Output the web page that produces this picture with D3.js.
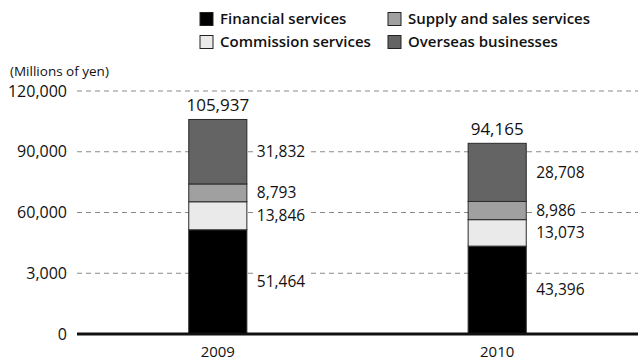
<!DOCTYPE html>
<html>
<head>
<meta charset="utf-8">
<script src="https://cdn.jsdelivr.net/npm/d3@7"></script>
<style>
  body { margin: 0; background: #fff; }
  text { font-family: "Open Sans", "DejaVu Sans", sans-serif; fill: #111; }
</style>
</head>
<body>
<div class="canvas"></div>
<script>
// data
const years = ['2009', '2010']
const series = ['Financial services', 'Commission services', 'Supply and sales services', 'Overseas businesses']
const financial = [51464, 43396]
const commission = [13846, 13073]
const supply = [8793, 8986]
const overseas = [31832, 28708]
const totals = [105937, 94165]
const tickValues = [0, 30000, 60000, 90000, 120000]
const tickLabels = ['0', '3,000', '60,000', '90,000', '120,000']
const colors = ['#000000', '#e9eae9', '#a0a0a0', '#646464']

const W = 638, H = 360
const svg = d3.select('.canvas').append('svg')
    .attr('width', W)
    .attr('height', H)

const y = d3.scaleLinear()
    .domain([0, 120000])
    .range([334, 91])

const x = d3.scaleBand()
    .domain(years)
    .range([77, 638])
    .paddingInner(0.792)
    .paddingOuter(0.4)

const rows = years.map((yr, i) => ({
    year: yr, 'Financial services': financial[i], 'Commission services': commission[i],
    'Supply and sales services': supply[i], 'Overseas businesses': overseas[i]
}))
const stacked = d3.stack().keys(series)(rows)

//gridlines
svg.append('g').selectAll('line')
    .data(tickValues.slice(1))
    .enter().append('line')
    .attr('x1', 77).attr('x2', W)
    .attr('y1', d => y(d)).attr('y2', d => y(d))
    .attr('stroke', '#8a8a8a')
    .attr('stroke-width', 1)
    .attr('stroke-dasharray', '5,4')

//y tick labels
svg.append('g').selectAll('text')
    .data(tickValues)
    .enter().append('text')
    .attr('x', 67)
    .attr('y', d => y(d))
    .attr('dy', '0.35em')
    .attr('text-anchor', 'end')
    .style('font-size', '16px')
    .text((d, i) => tickLabels[i])

svg.append('text')
    .attr('x', 10).attr('y', 76)
    .style('font-size', '13.5px')
    .text('(Millions of yen)')

//bars
const layer = svg.append('g').selectAll('g')
    .data(stacked)
    .enter().append('g')
    .attr('fill', (d, i) => colors[i])

layer.selectAll('rect')
    .data(d => d)
    .enter().append('rect')
    .attr('x', d => x(d.data.year))
    .attr('width', x.bandwidth())
    .attr('y', d => y(d[1]))
    .attr('height', d => y(d[0]) - y(d[1]))
    .attr('stroke', '#2a2a2a')
    .attr('stroke-width', 1)

//baseline
svg.append('line')
    .attr('x1', 77).attr('x2', W)
    .attr('y1', y(0)).attr('y2', y(0))
    .attr('stroke', '#111')
    .attr('stroke-width', 3)

//value labels with white background
const labels = []
stacked.forEach(s => s.forEach(d => labels.push({
    x: x(d.data.year) + x.bandwidth() + 10,
    y: (y(d[0]) + y(d[1])) / 2,
    v: d[1] - d[0]
})))

const lg = svg.append('g').selectAll('g')
    .data(labels)
    .enter().append('g')

lg.append('text')
    .attr('x', d => d.x)
    .attr('y', d => d.y)
    .attr('dy', '0.35em')
    .style('font-size', '15.5px')
    .text(d => d3.format(',')(d.v))

lg.each(function() {
    const g = d3.select(this)
    const b = g.select('text').node().getBBox()
    g.insert('rect', 'text')
        .attr('x', b.x - 3).attr('y', b.y)
        .attr('width', b.width + 6).attr('height', b.height)
        .attr('fill', '#fff')
})

//totals
svg.append('g').selectAll('text')
    .data(totals)
    .enter().append('text')
    .attr('x', (d, i) => x(years[i]) + x.bandwidth() / 2)
    .attr('y', d => y(d) - 8)
    .attr('text-anchor', 'middle')
    .style('font-size', '17px')
    .text(d => d3.format(',')(d))

//x labels
svg.append('g').selectAll('text')
    .data(years)
    .enter().append('text')
    .attr('x', d => x(d) + x.bandwidth() / 2)
    .attr('y', 357)
    .attr('text-anchor', 'middle')
    .style('font-size', '15px')
    .text(d => d)

//legend
const legendPos = [[200, 19], [200, 42], [388, 19], [388, 42]]
const legend = svg.append('g').selectAll('g')
    .data(series)
    .enter().append('g')
    .attr('transform', (d, i) => `translate(${legendPos[i][0]}, ${legendPos[i][1]})`)

legend.append('rect')
    .attr('x', 0).attr('y', -6.5)
    .attr('width', 13).attr('height', 13)
    .attr('fill', (d, i) => colors[i])
    .attr('stroke', '#222')
    .attr('stroke-width', 1)

legend.append('text')
    .attr('x', 20).attr('y', 0)
    .attr('dy', '0.35em')
    .style('font-size', '15px')
    .style('font-weight', '600')
    .text(d => d)
</script>
</body>
</html>
